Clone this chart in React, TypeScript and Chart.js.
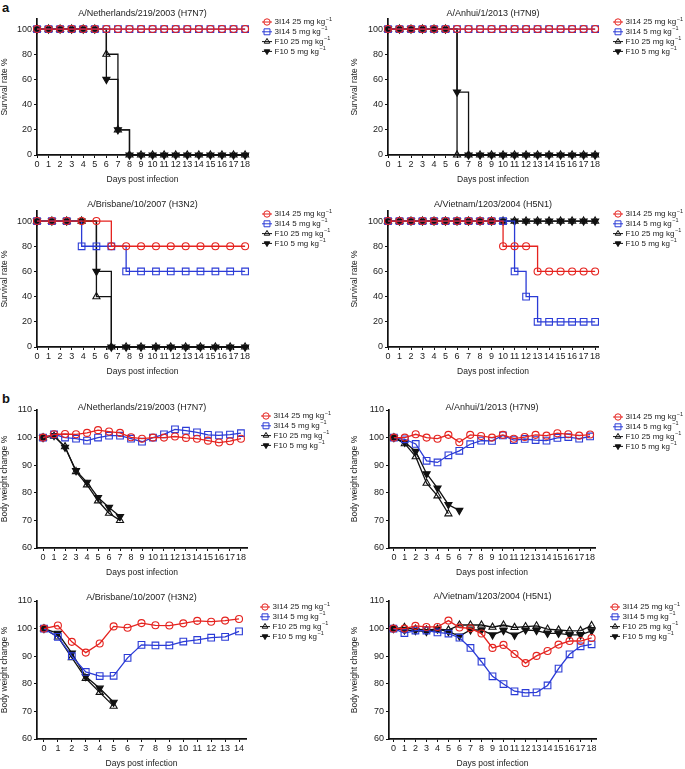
import React, { useEffect, useRef } from 'react';
import { Chart, registerables } from 'chart.js';

Chart.register(...registerables);

// ---------------- DATA ----------------
const SERIES_LABELS = ['3I14 25 mg kg⁻¹', '3I14 5 mg kg⁻¹', 'F10 25 mg kg⁻¹', 'F10 5 mg kg⁻¹'];

const DAYS_18 = [0, 1, 2, 3, 4, 5, 6, 7, 8, 9, 10, 11, 12, 13, 14, 15, 16, 17, 18];
const DAYS_14 = [0, 1, 2, 3, 4, 5, 6, 7, 8, 9, 10, 11, 12, 13, 14];
const BRIS_SURV_DAYS = [0, 1.29, 2.57, 3.86, 5.14, 6.43, 7.71, 9, 10.29, 11.57, 12.86, 14.14, 15.43, 16.71, 18];

const SURV_X_TICKS = [0, 1, 2, 3, 4, 5, 6, 7, 8, 9, 10, 11, 12, 13, 14, 15, 16, 17, 18];
const SURV_Y_TICKS = [0, 20, 40, 60, 80, 100];
const WEIGHT_X_TICKS_18 = [0, 1, 2, 3, 4, 5, 6, 7, 8, 9, 10, 11, 12, 13, 14, 15, 16, 17, 18];
const WEIGHT_X_TICKS_14 = [0, 1, 2, 3, 4, 5, 6, 7, 8, 9, 10, 11, 12, 13, 14];
const WEIGHT_Y_TICKS = [60, 70, 80, 90, 100, 110];

// a: survival
const NL_SURV_3I14_25 = [100, 100, 100, 100, 100, 100, 100, 100, 100, 100, 100, 100, 100, 100, 100, 100, 100, 100, 100];
const NL_SURV_3I14_5 = [100, 100, 100, 100, 100, 100, 100, 100, 100, 100, 100, 100, 100, 100, 100, 100, 100, 100, 100];
const NL_SURV_F10_25 = [100, 100, 100, 100, 100, 100, 80, 20, 0, 0, 0, 0, 0, 0, 0, 0, 0, 0, 0];
const NL_SURV_F10_5 = [100, 100, 100, 100, 100, 100, 60, 20, 0, 0, 0, 0, 0, 0, 0, 0, 0, 0, 0];

const AH_SURV_3I14_25 = [100, 100, 100, 100, 100, 100, 100, 100, 100, 100, 100, 100, 100, 100, 100, 100, 100, 100, 100];
const AH_SURV_3I14_5 = [100, 100, 100, 100, 100, 100, 100, 100, 100, 100, 100, 100, 100, 100, 100, 100, 100, 100, 100];
const AH_SURV_F10_25 = [100, 100, 100, 100, 100, 100, 0, 0, 0, 0, 0, 0, 0, 0, 0, 0, 0, 0, 0];
const AH_SURV_F10_5 = [100, 100, 100, 100, 100, 100, 50, 0, 0, 0, 0, 0, 0, 0, 0, 0, 0, 0, 0];

const BR_SURV_3I14_25 = [100, 100, 100, 100, 100, 80, 80, 80, 80, 80, 80, 80, 80, 80, 80];
const BR_SURV_3I14_5 = [100, 100, 100, 80, 80, 80, 60, 60, 60, 60, 60, 60, 60, 60, 60];
const BR_SURV_F10_25 = [100, 100, 100, 100, 40, 0, 0, 0, 0, 0, 0, 0, 0, 0, 0];
const BR_SURV_F10_5 = [100, 100, 100, 100, 60, 0, 0, 0, 0, 0, 0, 0, 0, 0, 0];

const VN_SURV_3I14_25 = [100, 100, 100, 100, 100, 100, 100, 100, 100, 100, 80, 80, 80, 60, 60, 60, 60, 60, 60];
const VN_SURV_3I14_5 = [100, 100, 100, 100, 100, 100, 100, 100, 100, 100, 100, 60, 40, 20, 20, 20, 20, 20, 20];
const VN_SURV_F10_25 = [100, 100, 100, 100, 100, 100, 100, 100, 100, 100, 100, 100, 100, 100, 100, 100, 100, 100, 100];
const VN_SURV_F10_5 = [100, 100, 100, 100, 100, 100, 100, 100, 100, 100, 100, 100, 100, 100, 100, 100, 100, 100, 100];

// b: body weight
const NL_W_3I14_25 = [100, 101.2, 101.3, 101.2, 101.7, 102.7, 102.2, 101.7, 100.1, 99.6, 100, 100, 100.4, 99.9, 99.6, 98.9, 98.2, 98.7, 99.6];
const NL_W_3I14_5 = [100, 101.2, 100, 99.6, 98.9, 100, 100.7, 100.7, 99.6, 98.5, 100, 101.2, 103, 102.5, 101.9, 101, 100.8, 101.1, 101.6];
const NL_W_F10_25 = [100, 100.5, 96.7, 87.7, 82.9, 77.1, 72.6, 70];
const NL_W_F10_5 = [100, 100.7, 96.5, 88, 83.8, 78.3, 74.7, 71.4];

const AH_W_3I14_25 = [100, 100, 101.2, 100, 99.6, 101, 98.3, 101, 100.6, 100, 101, 99.6, 100.2, 101, 100.7, 101.6, 101.2, 100.7, 101.1];
const AH_W_3I14_5 = [100, 99.4, 97.7, 91.6, 91, 93.6, 95.2, 97.6, 98.9, 98.8, 100.8, 99.1, 99.5, 99.1, 98.9, 99.9, 100.2, 99.6, 100.4];
const AH_W_F10_25 = [100, 97.8, 93.1, 83.5, 78.9, 72.4];
const AH_W_F10_5 = [100, 98.3, 95, 86.9, 81.7, 75.7, 73.6];

const BR_W_3I14_25 = [100, 101.1, 95.2, 91.3, 94.6, 100.8, 100.3, 102, 101.2, 101.1, 101.9, 102.8, 102.5, 102.9, 103.5];
const BR_W_3I14_5 = [100, 97, 90, 84.3, 82.8, 82.9, 89.4, 94.1, 93.9, 93.9, 95.3, 95.9, 96.7, 97, 99];
const BR_W_F10_25 = [100, 97, 89.5, 82, 76.9, 71.9];
const BR_W_F10_5 = [100, 98.3, 91.1, 82.6, 78.4, 73.3];

const VN_W_3I14_25 = [100, 100, 101, 100.6, 100.6, 102.9, 100.4, 100.1, 98.2, 93, 94.1, 90.8, 87.5, 90.1, 91.9, 94.2, 95.5, 95.5, 96.6];
const VN_W_3I14_5 = [100, 98.4, 99.3, 99.3, 98.6, 98.2, 96.7, 93, 88, 82.7, 79.9, 77.3, 76.7, 76.9, 79.4, 85.5, 90.7, 93.6, 94.3];
const VN_W_F10_25 = [100, 100.4, 99.8, 99.5, 99.8, 99.5, 101.3, 101.3, 101.3, 100.5, 101.3, 100.4, 100.7, 101, 99.8, 99.5, 99.2, 99.3, 101.1];
const VN_W_F10_5 = [100, 99.5, 99.3, 98.9, 99.8, 98.9, 97.3, 99.5, 99.5, 97.7, 99.3, 97.6, 99.5, 99.3, 98.3, 98.3, 97.7, 97.7, 99.2];

// ---------------- STYLE ----------------
const FONT = 'Arial, "Liberation Sans", Helvetica, sans-serif';
const RED = '#e5231f';
const BLUE = '#2b3bd6';
const BLACK = '#111111';
const TEXT = '#222222';
const CLEAR = 'rgba(255,255,255,0)';

const STYLES: any[] = [
  { borderColor: RED, pointBorderColor: RED, pointBackgroundColor: CLEAR, pointStyle: 'circle', pointRadius: 3.5, pointRotation: 0 },
  { borderColor: BLUE, pointBorderColor: BLUE, pointBackgroundColor: CLEAR, pointStyle: 'rect', pointRadius: 4.7, pointRotation: 0 },
  { borderColor: BLACK, pointBorderColor: BLACK, pointBackgroundColor: CLEAR, pointStyle: 'triangle', pointRadius: 4.1, pointRotation: 0 },
  { borderColor: BLACK, pointBorderColor: BLACK, pointBackgroundColor: BLACK, pointStyle: 'triangle', pointRadius: 4.1, pointRotation: 180 },
];

type Series = { x: number[]; y: number[] };
type PanelSpec = {
  id: string;
  title: string;
  yTitle: string;
  canvas: { left: number; top: number; w: number; h: number };
  area: { l: number; r: number; t: number; b: number };
  xMin: number; xMax: number; xTicks: number[];
  yMin: number; yMax: number; yTicks: number[];
  stepped: boolean;
  titleY: number;
  legendX: number; legendY: number;
  series: Series[];
};

const SURV_Y = 'Survival rate %';
const WEIGHT_Y = 'Body weight change %';

const PANELS: PanelSpec[] = [
  {
    id: 'a1', title: 'A/Netherlands/219/2003 (H7N7)', yTitle: SURV_Y,
    canvas: { left: 0, top: 0, w: 340, h: 190 }, area: { l: 37, r: 248, t: 19, b: 155 },
    xMin: 0, xMax: 18.25, xTicks: SURV_X_TICKS, yMin: 0, yMax: 108, yTicks: SURV_Y_TICKS, stepped: true,
    titleY: 14, legendX: 262, legendY: 22,
    series: [
      { x: DAYS_18, y: NL_SURV_3I14_25 }, { x: DAYS_18, y: NL_SURV_3I14_5 },
      { x: DAYS_18, y: NL_SURV_F10_25 }, { x: DAYS_18, y: NL_SURV_F10_5 },
    ],
  },
  {
    id: 'a2', title: 'A/Anhui/1/2013 (H7N9)', yTitle: SURV_Y,
    canvas: { left: 340, top: 0, w: 345, h: 190 }, area: { l: 388, r: 598, t: 19, b: 155 },
    xMin: 0, xMax: 18.25, xTicks: SURV_X_TICKS, yMin: 0, yMax: 108, yTicks: SURV_Y_TICKS, stepped: true,
    titleY: 14, legendX: 613, legendY: 22,
    series: [
      { x: DAYS_18, y: AH_SURV_3I14_25 }, { x: DAYS_18, y: AH_SURV_3I14_5 },
      { x: DAYS_18, y: AH_SURV_F10_25 }, { x: DAYS_18, y: AH_SURV_F10_5 },
    ],
  },
  {
    id: 'a3', title: 'A/Brisbane/10/2007 (H3N2)', yTitle: SURV_Y,
    canvas: { left: 0, top: 185, w: 340, h: 200 }, area: { l: 37, r: 248, t: 211, b: 347 },
    xMin: 0, xMax: 18.25, xTicks: SURV_X_TICKS, yMin: 0, yMax: 108, yTicks: SURV_Y_TICKS, stepped: true,
    titleY: 205, legendX: 262, legendY: 214,
    series: [
      { x: BRIS_SURV_DAYS, y: BR_SURV_3I14_25 }, { x: BRIS_SURV_DAYS, y: BR_SURV_3I14_5 },
      { x: BRIS_SURV_DAYS, y: BR_SURV_F10_25 }, { x: BRIS_SURV_DAYS, y: BR_SURV_F10_5 },
    ],
  },
  {
    id: 'a4', title: 'A/Vietnam/1203/2004 (H5N1)', yTitle: SURV_Y,
    canvas: { left: 340, top: 185, w: 345, h: 200 }, area: { l: 388, r: 598, t: 211, b: 347 },
    xMin: 0, xMax: 18.25, xTicks: SURV_X_TICKS, yMin: 0, yMax: 108, yTicks: SURV_Y_TICKS, stepped: true,
    titleY: 205, legendX: 613, legendY: 214,
    series: [
      { x: DAYS_18, y: VN_SURV_3I14_25 }, { x: DAYS_18, y: VN_SURV_3I14_5 },
      { x: DAYS_18, y: VN_SURV_F10_25 }, { x: DAYS_18, y: VN_SURV_F10_5 },
    ],
  },
  {
    id: 'b1', title: 'A/Netherlands/219/2003 (H7N7)', yTitle: WEIGHT_Y,
    canvas: { left: 0, top: 390, w: 340, h: 190 }, area: { l: 37, r: 247, t: 410, b: 548 },
    xMin: -0.55, xMax: 18.55, xTicks: WEIGHT_X_TICKS_18, yMin: 60, yMax: 110, yTicks: WEIGHT_Y_TICKS, stepped: false,
    titleY: 408, legendX: 261, legendY: 416,
    series: [
      { x: DAYS_18, y: NL_W_3I14_25 }, { x: DAYS_18, y: NL_W_3I14_5 },
      { x: DAYS_18, y: NL_W_F10_25 }, { x: DAYS_18, y: NL_W_F10_5 },
    ],
  },
  {
    id: 'b2', title: 'A/Anhui/1/2013 (H7N9)', yTitle: WEIGHT_Y,
    canvas: { left: 340, top: 390, w: 345, h: 190 }, area: { l: 389, r: 595, t: 410, b: 548 },
    xMin: -0.45, xMax: 18.45, xTicks: WEIGHT_X_TICKS_18, yMin: 60, yMax: 110, yTicks: WEIGHT_Y_TICKS, stepped: false,
    titleY: 408, legendX: 613, legendY: 417,
    series: [
      { x: DAYS_18, y: AH_W_3I14_25 }, { x: DAYS_18, y: AH_W_3I14_5 },
      { x: DAYS_18, y: AH_W_F10_25 }, { x: DAYS_18, y: AH_W_F10_5 },
    ],
  },
  {
    id: 'b3', title: 'A/Brisbane/10/2007 (H3N2)', yTitle: WEIGHT_Y,
    canvas: { left: 0, top: 580, w: 340, h: 189 }, area: { l: 37, r: 246, t: 601, b: 739 },
    xMin: -0.5, xMax: 14.5, xTicks: WEIGHT_X_TICKS_14, yMin: 60, yMax: 110, yTicks: WEIGHT_Y_TICKS, stepped: false,
    titleY: 598, legendX: 260, legendY: 607,
    series: [
      { x: DAYS_14, y: BR_W_3I14_25 }, { x: DAYS_14, y: BR_W_3I14_5 },
      { x: DAYS_14, y: BR_W_F10_25 }, { x: DAYS_14, y: BR_W_F10_5 },
    ],
  },
  {
    id: 'b4', title: 'A/Vietnam/1203/2004 (H5N1)', yTitle: WEIGHT_Y,
    canvas: { left: 340, top: 580, w: 345, h: 189 }, area: { l: 389, r: 596, t: 601, b: 739 },
    xMin: -0.4, xMax: 18.4, xTicks: WEIGHT_X_TICKS_18, yMin: 60, yMax: 110, yTicks: WEIGHT_Y_TICKS, stepped: false,
    titleY: 597, legendX: 610, legendY: 607,
    series: [
      { x: DAYS_18, y: VN_W_3I14_25 }, { x: DAYS_18, y: VN_W_3I14_5 },
      { x: DAYS_18, y: VN_W_F10_25 }, { x: DAYS_18, y: VN_W_F10_5 },
    ],
  },
];

// ---------------- PLUGINS ----------------
function drawMarker(ctx: CanvasRenderingContext2D, style: string, rotation: number, x: number, y: number, r: number, fill: string, stroke: string) {
  ctx.save();
  ctx.beginPath();
  if (style === 'circle') {
    ctx.arc(x, y, r, 0, Math.PI * 2);
  } else if (style === 'rect') {
    const s = r * Math.SQRT1_2;
    ctx.rect(x - s, y - s, 2 * s, 2 * s);
  } else {
    let rad = (rotation * Math.PI) / 180;
    for (let k = 0; k < 3; k++) {
      const px = x + Math.sin(rad) * r;
      const py = y - Math.cos(rad) * r;
      if (k === 0) ctx.moveTo(px, py); else ctx.lineTo(px, py);
      rad += (2 * Math.PI) / 3;
    }
    ctx.closePath();
  }
  ctx.fillStyle = fill;
  ctx.fill();
  ctx.strokeStyle = stroke;
  ctx.lineWidth = 1;
  ctx.stroke();
  ctx.restore();
}

const panelTitlePlugin = {
  id: 'panelTitle',
  afterDraw(chart: any, _args: any, opts: any) {
    const { ctx, chartArea } = chart;
    ctx.save();
    ctx.font = `9px ${FONT}`;
    ctx.fillStyle = TEXT;
    ctx.textAlign = 'center';
    ctx.textBaseline = 'middle';
    ctx.fillText(opts.text, (chartArea.left + chartArea.right) / 2, opts.y);
    ctx.restore();
  },
};

const seriesKeyPlugin = {
  id: 'seriesKey',
  afterDraw(chart: any, _args: any, opts: any) {
    const ctx: CanvasRenderingContext2D = chart.ctx;
    chart.data.datasets.forEach((ds: any, i: number) => {
      const yy = opts.y + i * opts.dy;
      const x = opts.x;
      ctx.save();
      ctx.strokeStyle = ds.borderColor;
      ctx.lineWidth = 1;
      ctx.beginPath();
      ctx.moveTo(x, yy);
      ctx.lineTo(x + 10, yy);
      ctx.stroke();
      drawMarker(ctx, ds.pointStyle, ds.pointRotation, x + 5, yy, ds.pointStyle === 'rect' ? 4.2 : 3.2, ds.pointBackgroundColor, ds.borderColor);
      const label: string = ds.label;
      const parts = label.split('⁻¹');
      ctx.fillStyle = TEXT;
      ctx.font = `8px ${FONT}`;
      ctx.textBaseline = 'middle';
      ctx.textAlign = 'left';
      ctx.fillText(parts[0], x + 12.5, yy);
      if (parts.length > 1) {
        const w = ctx.measureText(parts[0]).width;
        ctx.font = `5.5px ${FONT}`;
        ctx.fillText('−1', x + 12.5 + w + 0.5, yy - 3);
      }
      ctx.restore();
    });
  },
};

// ---------------- COMPONENTS ----------------
function ChartPanel({ spec }: { spec: PanelSpec }) {
  const ref = useRef<HTMLCanvasElement | null>(null);
  useEffect(() => {
    const c = spec.canvas;
    const a = spec.area;
    const padLeft = c.left === 0 ? 0 : 10;
    const yWidth = a.l - c.left - padLeft;
    const xHeight = 30;
    const padding = {
      left: padLeft,
      right: c.left + c.w - a.r,
      top: a.t - c.top,
      bottom: c.top + c.h - a.b - xHeight,
    };
    const datasets = spec.series.map((s, i) => ({
      label: SERIES_LABELS[i],
      data: s.x.map((xv, j) => ({ x: xv, y: s.y[j] })),
      ...STYLES[i],
      borderWidth: 1.3,
      pointBorderWidth: 1.1,
      stepped: spec.stepped,
      tension: 0,
      clip: false as any,
      fill: false,
    }));
    const tickFont = { family: FONT, size: 9 };
    const titleFont = { family: FONT, size: 8.5 };
    const chart = new Chart(ref.current as HTMLCanvasElement, {
      type: 'line',
      data: { datasets },
      options: {
        responsive: false,
        animation: false,
        devicePixelRatio: 1,
        layout: { padding },
        plugins: {
          legend: { display: false },
          tooltip: { enabled: false },
          panelTitle: { text: spec.title, y: spec.titleY - c.top },
          seriesKey: { x: spec.legendX - c.left, y: spec.legendY - c.top, dy: 9.8 },
        } as any,
        scales: {
          x: {
            type: 'linear',
            min: spec.xMin,
            max: spec.xMax,
            afterBuildTicks: (s: any) => { s.ticks = spec.xTicks.map((v) => ({ value: v })); },
            afterFit: (s: any) => { s.height = xHeight; },
            ticks: { autoSkip: false, maxRotation: 0, minRotation: 0, font: tickFont, color: TEXT, padding: 1 },
            grid: { drawOnChartArea: false, drawTicks: true, tickLength: 3, color: BLACK, lineWidth: 1 },
            border: { display: true, color: BLACK, width: 1.7 },
            title: { display: true, text: 'Days post infection', font: titleFont, color: TEXT, padding: 0 },
          },
          y: {
            type: 'linear',
            min: spec.yMin,
            max: spec.yMax,
            afterBuildTicks: (s: any) => { s.ticks = spec.yTicks.map((v) => ({ value: v })); },
            afterFit: (s: any) => { s.width = yWidth; },
            ticks: { font: tickFont, color: TEXT, padding: 2 },
            grid: { drawOnChartArea: false, drawTicks: true, tickLength: 3, color: BLACK, lineWidth: 1 },
            border: { display: true, color: BLACK, width: 1.7 },
            title: { display: true, text: spec.yTitle, font: titleFont, color: TEXT, padding: 0 },
          },
        },
      } as any,
      plugins: [panelTitlePlugin, seriesKeyPlugin],
    });
    return () => chart.destroy();
  }, [spec]);
  return (
    <canvas
      ref={ref}
      width={spec.canvas.w}
      height={spec.canvas.h}
      style={{ position: 'absolute', left: spec.canvas.left, top: spec.canvas.top, width: spec.canvas.w, height: spec.canvas.h }}
    />
  );
}

const letterStyle: React.CSSProperties = {
  position: 'absolute',
  fontFamily: FONT,
  fontWeight: 'bold',
  fontSize: 13,
  lineHeight: '13px',
  color: '#111',
  left: 2,
};

export default function App() {
  return (
    <div style={{ position: 'absolute', left: 0, top: 0, width: 685, height: 769, background: '#fff', overflow: 'hidden' }}>
      <div style={{ ...letterStyle, top: 1 }}>a</div>
      <div style={{ ...letterStyle, top: 392 }}>b</div>
      {PANELS.map((p) => (
        <ChartPanel key={p.id} spec={p} />
      ))}
    </div>
  );
}
